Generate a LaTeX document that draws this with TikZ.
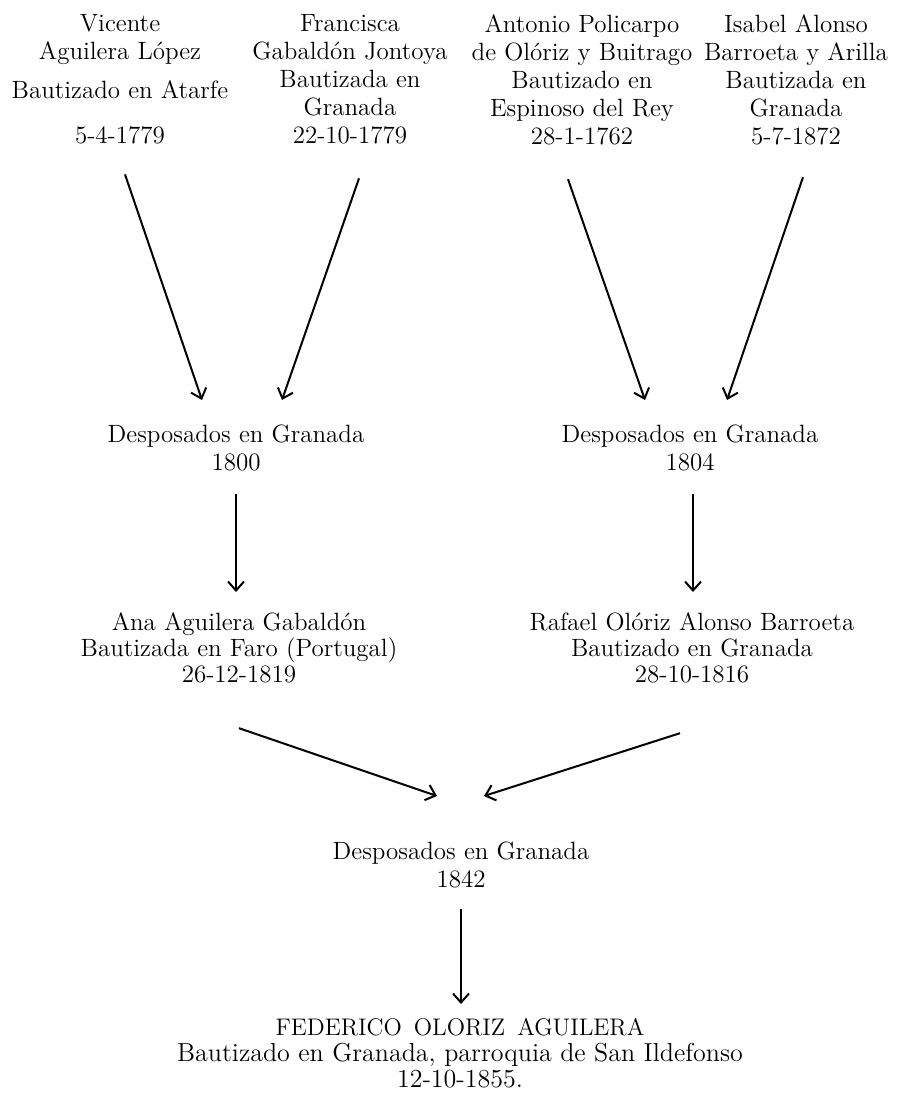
\documentclass[tikz,border=0pt]{standalone}
\usepackage{fontspec}
\usepackage{tikz}
\usetikzlibrary{arrows.meta}
\usetikzlibrary{calc}

\begin{document}
\begin{tikzpicture}[x=0.5pt, y=-0.5pt,
        person_style/.style={align=center, anchor=north, inner sep=0pt, font=\fontsize{12.5}{14}\selectfont},
        child_style/.style={align=center, anchor=north, inner sep=0pt, font=\fontsize{12.5}{13}\selectfont},
        wedding_style/.style={align=center, anchor=north, inner sep=0pt, font=\fontsize{12.5}{14}\selectfont},
        heir_style/.style={align=center, anchor=north, inner sep=0pt, font=\fontsize{13}{13}\selectfont},
        edge_style/.style={draw=black, line width=1pt, -{Straight Barb[length=4.5pt,width=8pt]}}]

        \useasboundingbox (0,0) rectangle (905,1105);

        \node [person_style](vicente) at (120,14) {Vicente\\Aguilera López\\[5.5pt]Bautizado en Atarfe\\[8.5pt]5-4-1779};

        \node [person_style](francisca) at (350,14) {Francisca\\Gabaldón Jontoya\\Bautizada en\\Granada\\22-10-1779};

        \node [person_style](antonio) at (582,14) {Antonio Policarpo\\de Olóriz y Buitrago\\Bautizado en\\Espinoso del Rey\\28-1-1762};

        \node [person_style](isabel) at (796,14) {Isabel Alonso\\Barroeta y Arilla\\Bautizada en\\Granada\\5-7-1872};

        \node [wedding_style](boda1800) at (236,424) {Desposados en Granada\\1800};

        \node [wedding_style](boda1804) at (690,424) {Desposados en Granada\\1804};

        \node [child_style](ana) at (239,612) {Ana Aguilera Gabaldón\\Bautizada en Faro (Portugal)\\26-12-1819};

        \node [child_style](rafael) at (692,612) {Rafael Olóriz Alonso Barroeta\\Bautizado en Granada\\28-10-1816};

        \node [wedding_style](boda1842) at (461,841) {Desposados en Granada\\1842};

        \node [heir_style](federico) at (460,1018) {{\fontsize{12}{13}\selectfont FEDERICO\enspace OLORIZ\enspace AGUILERA}\\Bautizado en Granada, parroquia de San Ildefonso\\12-10-1855.};

        \draw [edge_style] ($(vicente.south)+(5,30)$) -- ($(boda1800.north)+(-34,-24)$);

        \draw [edge_style] ($(francisca.south)+(9,34)$) -- ($(boda1800.north)+(46,-24)$);

        \draw [edge_style] ($(antonio.south)+(-14,34)$) -- ($(boda1804.north)+(-45,-24)$);

        \draw [edge_style] ($(isabel.south)+(7,32)$) -- ($(boda1804.north)+(37,-24)$);

        \draw [edge_style] ($(boda1800.south)+(0,23)$) -- ($(boda1800.south |- ana.north)+(0,-20)$);

        \draw [edge_style] ($(boda1804.south)+(3,23)$) -- ($(boda1804.south |- rafael.north)+(3,-20)$);

        \draw [edge_style] ($(ana.south)+(0,45)$) -- ($(boda1842.north)+(-24,-45)$);

        \draw [edge_style] ($(rafael.south)+(-12,50)$) -- ($(boda1842.north)+(23,-45)$);

        \draw [edge_style] ($(boda1842.south)+(0,21)$) -- ($(boda1842.south |- federico.north)+(0,-14)$);

        \end{tikzpicture}
\end{document}
